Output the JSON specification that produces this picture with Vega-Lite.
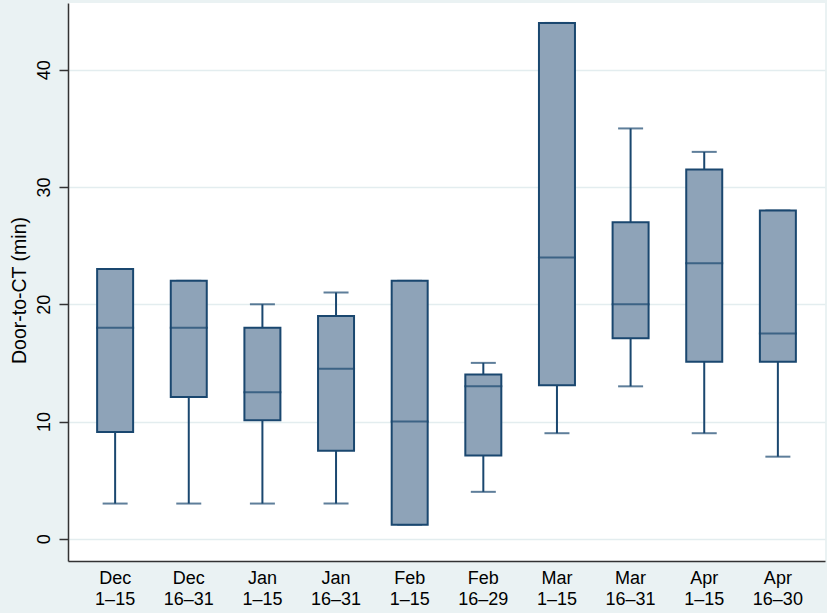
{
  "$schema": "https://vega.github.io/schema/vega-lite/v6.json",
  "width": 757,
  "height": 558,
  "autosize": {"type": "none"},
  "padding": {"left": 68, "top": 3, "right": 2, "bottom": 52},
  "background": "#EAF2F3",
  "config": {
    "view": {"fill": "white", "stroke": null},
    "font": "Liberation Sans",
    "axis": {"labelFont": "Liberation Sans", "titleFont": "Liberation Sans", "labelColor": "#000", "titleColor": "#000", "domainColor": "#333", "tickColor": "#333"}
  },
  "data": {
    "values": [
      {"period": "Dec 1–15", "lo": 3, "q1": 9.1, "med": 18, "q3": 23, "hi": 23},
      {"period": "Dec 16–31", "lo": 3, "q1": 12.1, "med": 18, "q3": 22, "hi": 22},
      {"period": "Jan 1–15", "lo": 3, "q1": 10.1, "med": 12.5, "q3": 18, "hi": 20},
      {"period": "Jan 16–31", "lo": 3, "q1": 7.5, "med": 14.5, "q3": 19, "hi": 21},
      {"period": "Feb 1–15", "lo": 1.2, "q1": 1.2, "med": 10, "q3": 22, "hi": 22},
      {"period": "Feb 16–29", "lo": 4, "q1": 7.1, "med": 13, "q3": 14, "hi": 15},
      {"period": "Mar 1–15", "lo": 9, "q1": 13.1, "med": 24, "q3": 44, "hi": 44},
      {"period": "Mar 16–31", "lo": 13, "q1": 17.1, "med": 20, "q3": 27, "hi": 35},
      {"period": "Apr 1–15", "lo": 9, "q1": 15.1, "med": 23.5, "q3": 31.5, "hi": 33},
      {"period": "Apr 16–30", "lo": 7, "q1": 15.1, "med": 17.5, "q3": 28, "hi": 28}
    ]
  },
  "encoding": {
    "x": {
      "field": "period", "type": "nominal", "sort": null,
      "scale": {"type": "band", "paddingInner": 0, "paddingOuter": 0.14},
      "axis": {"title": null, "labelAngle": 0, "ticks": false, "labelFontSize": 18, "labelPadding": 8, "labelLineHeight": 21, "labelExpr": "split(datum.value, ' ')", "domainWidth": 1.5, "grid": false}
    }
  },
  "layer": [
    {
      "mark": {"type": "rule", "color": "#1A476F", "strokeWidth": 2},
      "encoding": {
        "y": {"field": "lo", "type": "quantitative", "scale": {"domain": [-1.9, 45.7], "nice": false, "zero": false},
          "axis": {"title": "Door-to-CT (min)", "titleFontSize": 19.5, "titleFontWeight": "normal", "titlePadding": 6, "titleY": 287, "values": [0, 10, 20, 30, 40], "labelAngle": 270, "labelAlign": "center", "labelBaseline": "bottom", "labelFontSize": 18, "labelPadding": 6, "tickSize": 9, "tickWidth": 1.5, "domainWidth": 1.5, "grid": true, "gridColor": "#E3EDEF", "gridWidth": 1.5}},
        "y2": {"field": "hi"}
      }
    },
    {
      "mark": {"type": "tick", "color": "#1A476F", "thickness": 2, "size": 25},
      "encoding": {"y": {"field": "lo", "type": "quantitative"}}
    },
    {
      "mark": {"type": "tick", "color": "#1A476F", "thickness": 2, "size": 25},
      "encoding": {"y": {"field": "hi", "type": "quantitative"}}
    },
    {
      "mark": {"type": "bar", "fill": "#8EA3B8", "stroke": "#1A476F", "strokeWidth": 2, "size": 36},
      "encoding": {"y": {"field": "q1", "type": "quantitative"}, "y2": {"field": "q3"}}
    },
    {
      "mark": {"type": "tick", "color": "#1A476F", "thickness": 2, "size": 38},
      "encoding": {"y": {"field": "med", "type": "quantitative"}}
    }
  ]
}
